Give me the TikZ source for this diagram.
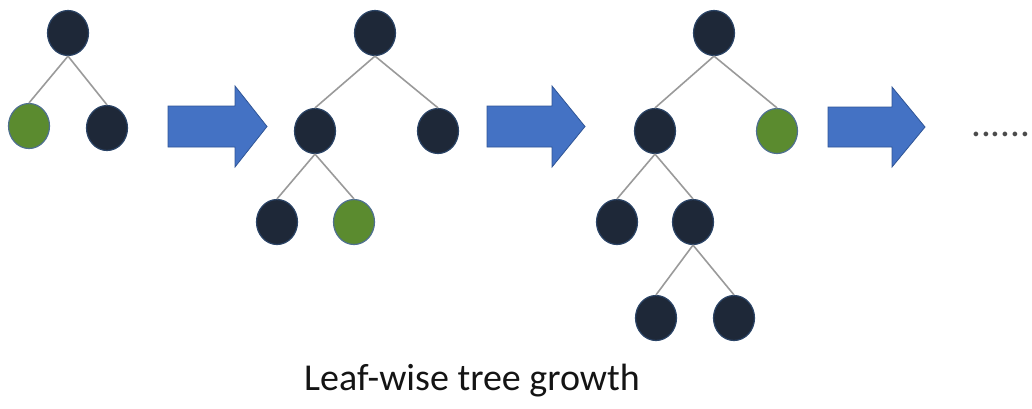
\documentclass[tikz,border=0pt]{standalone}
\usepackage{fontspec}
\setmainfont{Carlito}
\usetikzlibrary{shapes.geometric}
\definecolor{nodedark}{HTML}{1E2838}
\definecolor{nodeedge}{HTML}{2B4466}
\definecolor{leafgreen}{HTML}{5B8B2F}
\definecolor{leafedge}{HTML}{4F7090}
\definecolor{arrowblue}{HTML}{4472C4}
\definecolor{arrowedge}{HTML}{2F5597}
\definecolor{edgegray}{HTML}{9A9A9A}
\tikzset{
  tnode/.style={ellipse, minimum width=41pt, minimum height=45pt, inner sep=0pt,
    fill=nodedark, draw=nodeedge, line width=1.2pt},
  gnode/.style={tnode, fill=leafgreen, draw=leafedge},
  tedge/.style={draw=edgegray, line width=1.6pt},
  bigarrow/.style={fill=arrowblue, draw=arrowedge, line width=0.8pt, line join=miter},
  caption/.style={font=\fontsize{38}{40}\selectfont, text=black!92, inner sep=0pt},
  dots/.style={font=\fontsize{39}{41}\selectfont, text=black!70, inner sep=0pt}
}
\begin{document}
\begin{tikzpicture}[x=1pt,y=-1pt]
\useasboundingbox (0,0) rectangle (1032,408);
% Tree 1
\node[tnode] (t1r) at (68,33) {};
\node[gnode] (t1a) at (29,126) {};
\node[tnode] (t1b) at (107,128) {};
% Tree 2
\node[tnode] (t2r) at (375,33) {};
\node[tnode] (t2a) at (315,131) {};
\node[tnode] (t2b) at (438,131) {};
\node[tnode] (t2c) at (277,222) {};
\node[gnode] (t2d) at (354,222) {};
% Tree 3
\node[tnode] (t3r) at (714,33) {};
\node[tnode] (t3a) at (655,131) {};
\node[gnode] (t3b) at (777,131) {};
\node[tnode] (t3c) at (617,222) {};
\node[tnode] (t3d) at (693,222) {};
\node[tnode] (t3e) at (656,318) {};
\node[tnode] (t3f) at (734,318) {};
% Edges
\path[tedge] (t1r.south) -- (t1a.north) (t1r.south) -- (t1b.north);
\path[tedge] (t2r.south) -- (t2a.north) (t2r.south) -- (t2b.north)
  (t2a.south) -- (t2c.north) (t2a.south) -- (t2d.north);
\path[tedge] (t3r.south) -- (t3a.north) (t3r.south) -- (t3b.north)
  (t3a.south) -- (t3c.north) (t3a.south) -- (t3d.north)
  (t3d.south) -- (t3e.north) (t3d.south) -- (t3f.north);
% Block arrows
\path[bigarrow] (168,106) -- (235,106) -- (235,86) -- (267,126.5) -- (235,167) -- (235,147) -- (168,147) -- cycle;
\path[bigarrow] (487,106) -- (552,106) -- (552,86) -- (585,126.5) -- (552,167) -- (552,147) -- (487,147) -- cycle;
\path[bigarrow] (828,107) -- (892,107) -- (892,87) -- (925,127) -- (892,167) -- (892,147) -- (828,147) -- cycle;
% Dots
\node[dots, anchor=base west] (more) at (971,136) {......};
% Caption
\node[caption, anchor=base] (cap) at (472,390) {Leaf-wise tree growth};
\end{tikzpicture}
\end{document}
